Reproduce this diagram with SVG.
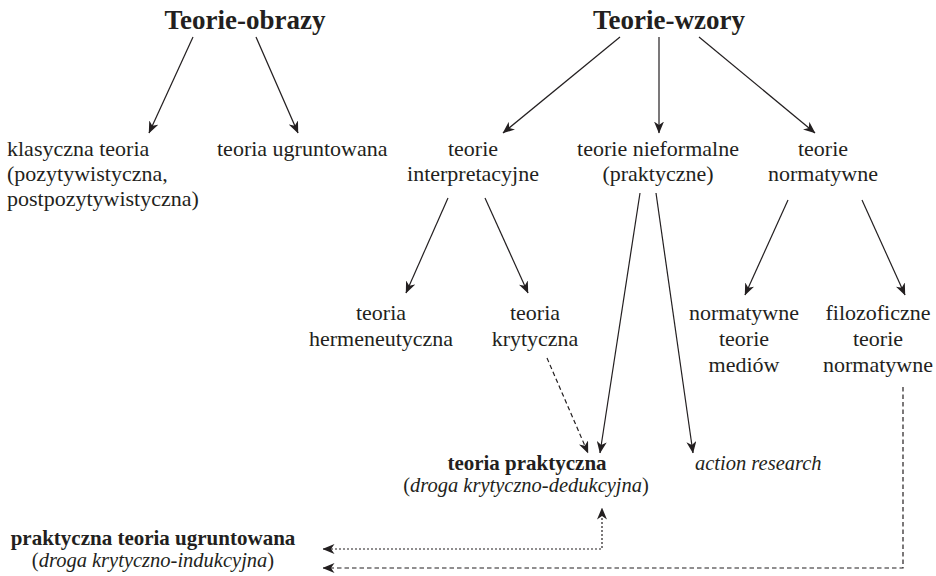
<svg xmlns="http://www.w3.org/2000/svg" width="936" height="576" viewBox="0 0 936 576">
<style>
text{font-family:"Liberation Serif","Times New Roman",serif;fill:#231f20}
.t{font-size:22px}
.h{font-size:27px;font-weight:bold}
.b{font-size:21px;font-weight:bold}
.i{font-size:20.5px;font-style:italic}
.n{font-style:normal}
.c{text-anchor:middle}
.ln{fill:none;stroke:#231f20;stroke-width:1.2}
.dash{stroke-dasharray:4.5 3}
.dot{stroke-dasharray:2 2}
</style>
<defs>
<marker id="ah" viewBox="0 0 12 10" refX="11.5" refY="5" markerWidth="12" markerHeight="10" markerUnits="userSpaceOnUse" orient="auto-start-reverse">
<path d="M0,0 L12,5 L0,10 L3.5,5 Z" fill="#231f20"/>
</marker>
</defs>
<rect width="936" height="576" fill="#ffffff"/>
<g id="connectors">
<line class="ln" x1="193" y1="37" x2="149" y2="133" marker-end="url(#ah)"/>
<line class="ln" x1="256" y1="37" x2="298" y2="133" marker-end="url(#ah)"/>
<line class="ln" x1="620" y1="37" x2="503" y2="133" marker-end="url(#ah)"/>
<line class="ln" x1="659" y1="37" x2="659" y2="133" marker-end="url(#ah)"/>
<line class="ln" x1="699" y1="37" x2="815" y2="133" marker-end="url(#ah)"/>
<line class="ln" x1="448" y1="198" x2="406" y2="293" marker-end="url(#ah)"/>
<line class="ln" x1="485" y1="198" x2="528" y2="293" marker-end="url(#ah)"/>
<line class="ln" x1="788" y1="200" x2="745" y2="295" marker-end="url(#ah)"/>
<line class="ln" x1="862" y1="200" x2="905" y2="295" marker-end="url(#ah)"/>
<line class="ln" x1="640" y1="193" x2="600" y2="453" marker-end="url(#ah)"/>
<line class="ln" x1="656" y1="193" x2="693" y2="453" marker-end="url(#ah)"/>
<line class="ln dash" x1="547" y1="358" x2="588" y2="453" marker-end="url(#ah)"/>
<path class="ln dot" d="M323,549 H602 V508" marker-start="url(#ah)" marker-end="url(#ah)"/>
<path class="ln dash" d="M903,387 V568 H323" marker-end="url(#ah)"/>
</g>
<g id="teorie-obrazy"><text class="h c" x="245" y="29">Teorie-obrazy</text></g>
<g id="teorie-wzory"><text class="h c" x="669" y="29">Teorie-wzory</text></g>
<g id="klasyczna-teoria">
<text class="t" x="7" y="156">klasyczna teoria</text>
<text class="t" x="7" y="181">(pozytywistyczna,</text>
<text class="t" x="7" y="206">postpozytywistyczna)</text>
</g>
<g id="teoria-ugruntowana"><text class="t" x="217" y="156">teoria ugruntowana</text></g>
<g id="teorie-interpretacyjne">
<text class="t c" x="473" y="156">teorie</text>
<text class="t c" x="473" y="181">interpretacyjne</text>
</g>
<g id="teorie-nieformalne">
<text class="t c" x="658" y="156">teorie nieformalne</text>
<text class="t c" x="658" y="181">(praktyczne)</text>
</g>
<g id="teorie-normatywne">
<text class="t c" x="823" y="156">teorie</text>
<text class="t c" x="823" y="181">normatywne</text>
</g>
<g id="teoria-hermeneutyczna">
<text class="t c" x="381" y="320">teoria</text>
<text class="t c" x="381" y="346">hermeneutyczna</text>
</g>
<g id="teoria-krytyczna">
<text class="t c" x="535" y="320">teoria</text>
<text class="t c" x="535" y="346">krytyczna</text>
</g>
<g id="normatywne-teorie-mediow">
<text class="t c" x="744" y="320">normatywne</text>
<text class="t c" x="744" y="346">teorie</text>
<text class="t c" x="744" y="372">mediów</text>
</g>
<g id="filozoficzne-teorie-normatywne">
<text class="t c" x="878" y="320">filozoficzne</text>
<text class="t c" x="878" y="346">teorie</text>
<text class="t c" x="878" y="372">normatywne</text>
</g>
<g id="teoria-praktyczna">
<text class="b c" x="527" y="470">teoria praktyczna</text>
<text class="i c" x="526" y="492"><tspan class="n">(</tspan>droga krytyczno-dedukcyjna<tspan class="n">)</tspan></text>
</g>
<g id="action-research"><text class="i" x="695" y="470">action research</text></g>
<g id="praktyczna-teoria-ugruntowana">
<text class="b c" x="153" y="545">praktyczna teoria ugruntowana</text>
<text class="i c" x="153" y="567"><tspan class="n">(</tspan>droga krytyczno-indukcyjna<tspan class="n">)</tspan></text>
</g>
</svg>
